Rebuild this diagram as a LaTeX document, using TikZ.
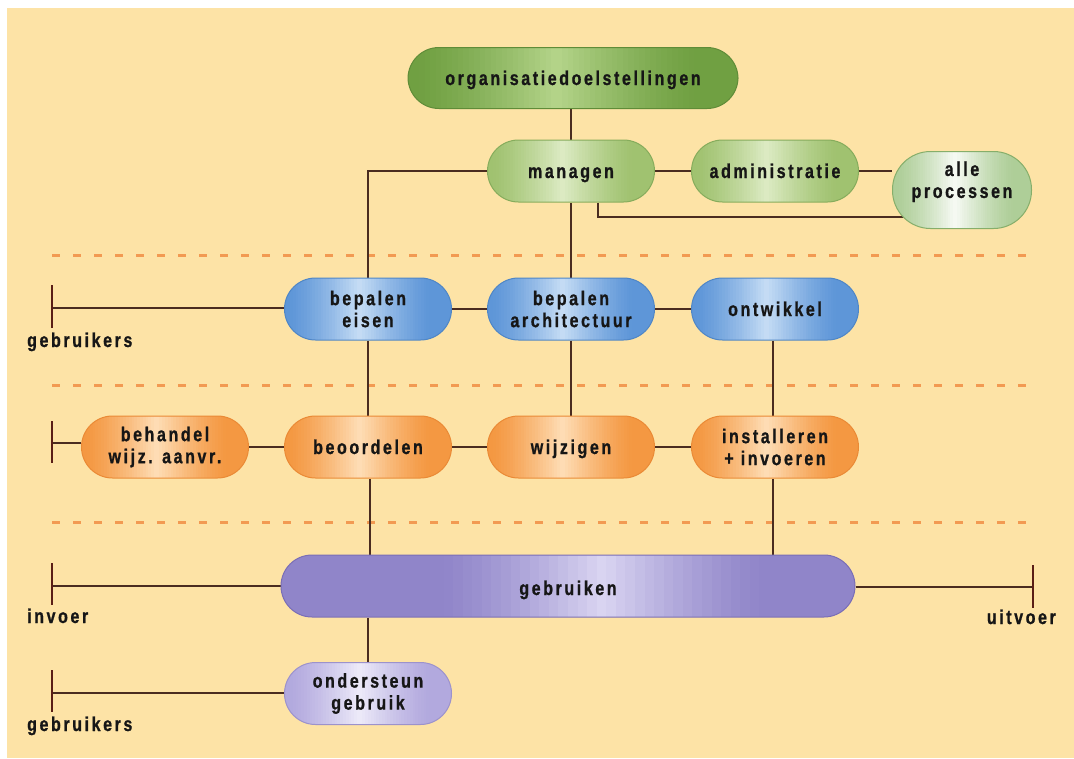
\documentclass[tikz,border=0pt]{standalone}
\usepackage{fontspec}
\setmainfont{Liberation Sans}[FakeStretch=0.8, LetterSpace=13, BoldFeatures={FakeBold=0.9}]
\usetikzlibrary{calc}
\pgfdeclarelayer{bg}
\pgfdeclarelayer{links}
\pgfsetlayers{bg,links,main}

\definecolor{paper}{HTML}{FDE3A6}
\definecolor{wire}{HTML}{4A2C20}
\definecolor{barred}{HTML}{5A1E16}
\definecolor{sepline}{HTML}{F29A52}
\definecolor{ink}{HTML}{161616}

% node colours: edge tone, glossy highlight, outline
\definecolor{dgBase}{HTML}{70A042}\definecolor{dgHi}{HTML}{BCDA92}\definecolor{dgLine}{HTML}{5F8C38}
\definecolor{lgBase}{HTML}{A0C270}\definecolor{lgHi}{HTML}{E4F0CE}\definecolor{lgLine}{HTML}{86AC5C}
\definecolor{pgBase}{HTML}{AECE98}\definecolor{pgHi}{HTML}{FFFFFF}\definecolor{pgLine}{HTML}{86AE6A}
\definecolor{blBase}{HTML}{5E96D8}\definecolor{blHi}{HTML}{D2E5F8}\definecolor{blLine}{HTML}{4F86C6}
\definecolor{orBase}{HTML}{F49842}\definecolor{orHi}{HTML}{FFE6C4}\definecolor{orLine}{HTML}{EA8A36}
\definecolor{puBase}{HTML}{9085C9}\definecolor{puHi}{HTML}{E2DEF6}\definecolor{puLine}{HTML}{7A6EB6}
\definecolor{laBase}{HTML}{B2A9DE}\definecolor{laHi}{HTML}{F4F2FC}\definecolor{laLine}{HTML}{9C92CC}

% glossy fill made of thin vertical strips, clipped to the node outline
\def\glossmid{0.45}\def\glosshalf{0.42}
\newcommand\glossfill[2]{%
  \pgfpointanchor{path picture bounding box}{south west}\pgfgetlastxy{\gxa}{\gya}%
  \pgfpointanchor{path picture bounding box}{north east}\pgfgetlastxy{\gxb}{\gyb}%
  \pgfmathsetmacro\gw{(\gxb-\gxa)/60}%
  \foreach \k in {0,...,59}{%
    \pgfmathsetmacro\gt{(\k+0.5)/60}%
    \pgfmathsetmacro\gm{90*max(0,1-abs(\gt-\glossmid)/\glosshalf)^1.3}%
    \fill[sharp corners, #2!\gm!#1] ({\gxa+\k*\gw pt},\gya) rectangle ({\gxa+(\k+1)*\gw pt+0.5pt},\gyb);%
  }%
}

\tikzset{
  x=1pt, y=-1pt,
  gloss mid/.store in=\glossmid,
  gloss half/.store in=\glosshalf,
  box/.style={rectangle, rounded corners=31pt, minimum width=167pt, minimum height=62pt,
    inner sep=0pt, align=center, text=ink, line width=1pt,
    text height=14pt, text depth=0pt,
    font=\fontsize{20}{22}\selectfont\bfseries},
  two/.style={text height={}, text depth={}, execute at begin node={\rule{0pt}{18.6pt}}},
  gloss/.style n args={3}{box, draw=#3, path picture={\glossfill{#1}{#2}}},
  darkgreen/.style={gloss={dgBase}{dgHi}{dgLine}},
  lightgreen/.style={gloss={lgBase}{lgHi}{lgLine}},
  palegreen/.style={gloss={pgBase}{pgHi}{pgLine}},
  blue/.style={gloss={blBase}{blHi}{blLine}},
  orange/.style={gloss={orBase}{orHi}{orLine}},
  purple/.style={gloss={puBase}{puHi}{puLine}},
  lavender/.style={gloss={laBase}{laHi}{laLine}},
  link/.style={draw=wire, line width=1.5pt},
  tbar/.style={draw=barred, line width=2.2pt},
  sepdash/.style={draw=sepline, line width=3pt, dash pattern=on 8pt off 13pt},
  side/.style={text=ink, inner sep=0pt, font=\fontsize{20}{22}\selectfont\bfseries},
}

\begin{document}
\begin{tikzpicture}
% paper
\begin{pgfonlayer}{bg}
  \fill[white] (0,0) rectangle (1074,758);
  \fill[paper] (7,8) rectangle (1074,758);
  \draw[sepdash] (52,255) -- (1035,255);
  \draw[sepdash] (52,385) -- (1035,385);
  \draw[sepdash] (52,522) -- (1035,522);
\end{pgfonlayer}

% top level
\node[darkgreen, minimum width=330pt, minimum height=61pt] (org) at (573,78) {organisatiedoelstellingen};
\node[lightgreen] (man) at (571,171) {managen};
\node[lightgreen] (adm) at (775,171) {administratie};
\node[palegreen, two, minimum width=139pt, minimum height=77pt, rounded corners=38pt] (all) at (962,190) {alle\\processen\rule[-20.6pt]{0pt}{0pt}};

% development row
\node[blue, two] (eis) at (368,309) {bepalen\\eisen};
\node[blue, two] (arc) at (571,309) {bepalen\\architectuur};
\node[blue] (ont) at (775,309) {ontwikkel};

% change row
\node[orange, two] (beh) at (165,447) {behandel\\wijz. aanvr.};
\node[orange] (beo) at (368,447) {beoordelen};
\node[orange] (wij) at (571,447) {wijzigen};
\node[orange, two] (ins) at (775,447) {installeren\\+ invoeren};

% use row
\node[purple, minimum width=574pt, text height=18pt, gloss mid=0.56, gloss half=0.28] (geb) at (568,586) {gebruiken};
\node[lavender, two] (ond) at (368,693.5) {ondersteun\\gebruik};

% end points on the left and right edge
\coordinate (u1) at (52,308);
\coordinate (u2) at (52,443);
\coordinate (u3) at (52,586);
\coordinate (u4) at (52,693);
\coordinate (u5) at (1033,587);

\node[side, anchor=base west] (lu1) at (27,347) {gebruikers};
\node[side, anchor=base west] (lu3) at (27,623) {invoer};
\node[side, anchor=base west] (lu4) at (27,731) {gebruikers};
\node[side, anchor=base east] (lu5) at (1056,624) {uitvoer};

\begin{pgfonlayer}{links}
  \draw[link] (man.north) -- (man.north |- org.south);
  \draw[link] (man.west) -| (eis.north);
  \draw[link] (man) -- (adm);
  \draw[link] (adm.east) -- (all.west |- adm.east);
  \draw[link] ([xshift=27pt]man.south) |- ([xshift=12pt,yshift=12pt]all.south west);
  \draw[link] (man) -- (arc);
  \draw[link] (eis) -- (arc);
  \draw[link] (arc) -- (ont);
  \draw[link] (eis) -- (beo);
  \draw[link] (arc) -- (wij);
  \draw[link] ([xshift=-2pt]ont.south) -- ([xshift=-2pt]ins.north);
  \draw[link] (u2) -- (beh.west |- u2);
  \draw[link] (beh) -- (beo);
  \draw[link] (beo) -- (wij);
  \draw[link] (wij) -- (ins);
  \draw[link] ([xshift=2pt]beo.south) -- ([xshift=2pt]beo.south |- geb.north);
  \draw[link] ([xshift=-2pt]ins.south) -- ([xshift=-2pt]ins.south |- geb.north);
  \draw[link] (ond.north) -- (ond.north |- geb.south);
  \draw[link] (u1) -- (eis.west |- u1);
  \draw[link] (u3) -- (geb.west |- u3);
  \draw[link] (u4) -- (ond.west |- u4);
  \draw[link] (geb.east |- u5) -- (u5);
\end{pgfonlayer}

% end bars
\draw[tbar] ([yshift=23pt]u1) -- ([yshift=-20pt]u1);
\draw[tbar] ([yshift=22pt]u2) -- ([yshift=-20pt]u2);
\draw[tbar] ([yshift=23pt]u3) -- ([yshift=-19pt]u3);
\draw[tbar] ([yshift=23pt]u4) -- ([yshift=-19pt]u4);
\draw[tbar] ([yshift=22pt]u5) -- ([yshift=-21pt]u5);
\end{tikzpicture}
\end{document}
